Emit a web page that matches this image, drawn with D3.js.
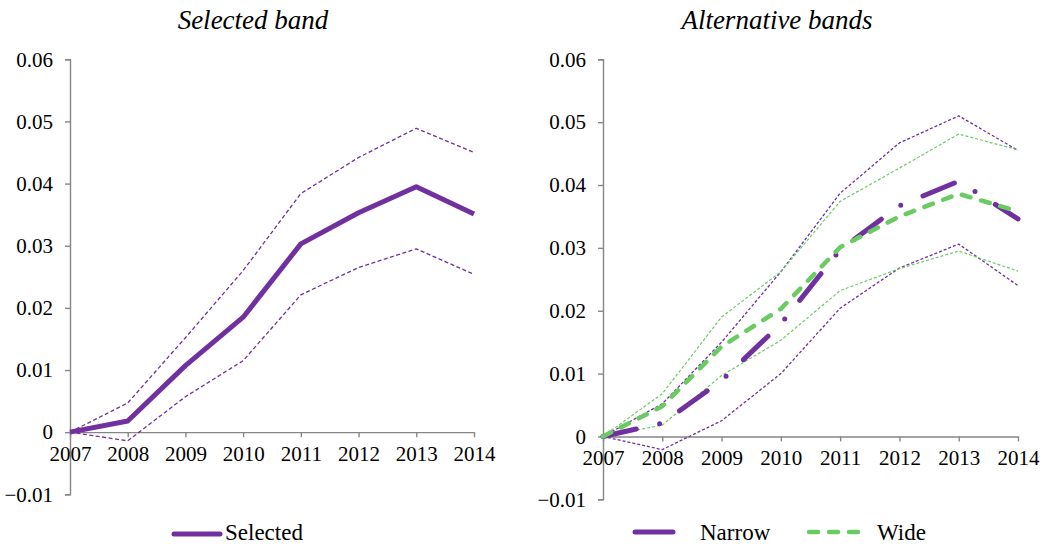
<!DOCTYPE html>
<html>
<head>
<meta charset="utf-8">
<script src="https://cdn.jsdelivr.net/npm/d3@7"></script>
<style>
  html, body { margin: 0; padding: 0; background: #fff; }
  svg { display: block; }
  text { font-family: "Liberation Serif", "Times New Roman", serif; fill: #000; }
</style>
</head>
<body>
<svg id="chart" width="1046" height="548"></svg>
<script>
// Years on the horizontal axis
const years = ["2007", "2008", "2009", "2010", "2011", "2012", "2013", "2014"];
const yTicks = [-0.01, 0, 0.01, 0.02, 0.03, 0.04, 0.05, 0.06];

// Left panel: selected band
const selected      = [0, 0.0018, 0.0107, 0.0185, 0.0303, 0.0353, 0.0395, 0.0351];
const selectedUpper = [0, 0.0047, 0.0152, 0.0260, 0.0384, 0.0442, 0.0489, 0.0450];
const selectedLower = [0, -0.0014, 0.0057, 0.0115, 0.0221, 0.0265, 0.0295, 0.0254];

// Right panel: alternative bands
const narrow      = [0, 0.0021, 0.0089, 0.0179, 0.0297, 0.0367, 0.0406, 0.0346];
const narrowUpper = [0, 0.0052, 0.0150, 0.0262, 0.0387, 0.0467, 0.0510, 0.0455];
const narrowLower = [0, -0.0021, 0.0025, 0.0100, 0.0204, 0.0268, 0.0306, 0.0240];
const wide        = [0, 0.0048, 0.0143, 0.0203, 0.0301, 0.0350, 0.0386, 0.0358];
const wideUpper   = [0, 0.0068, 0.0190, 0.0262, 0.0374, 0.0427, 0.0481, 0.0456];
const wideLower   = [0, 0.0018, 0.0097, 0.0153, 0.0232, 0.0267, 0.0295, 0.0263];

const PURPLE = "#7030a0";
const GREEN = "#6bcb63";
const AXIS = "#868686";

const svg = d3.select("#chart");
svg.append("rect").attr("width", 1046).attr("height", 548).attr("fill", "#fff");

function panel(cfg) {
  const g = svg.append("g");
  const x = d3.scalePoint().domain(years).range([cfg.x0, cfg.x1]);
  const y = d3.scaleLinear().domain([-0.01, 0.06]).range([cfg.yBottom, cfg.yTop]);

  // y axis
  const yAxis = d3.axisLeft(y).tickValues(yTicks)
    .tickFormat(d => d === 0 ? "0" : d3.format(".2f")(d))
    .tickSize(5).tickPadding(12);
  const ya = g.append("g").attr("transform", `translate(${cfg.x0},0)`).call(yAxis);
  ya.select(".domain").attr("stroke", AXIS).attr("stroke-width", 1.4);
  ya.selectAll(".tick line").attr("stroke", AXIS).attr("stroke-width", 1.4);
  ya.selectAll(".tick text").attr("font-size", 21).attr("font-family", "Liberation Serif").attr("fill", "#000");

  // x axis along zero
  const xAxis = d3.axisBottom(x).tickSize(5).tickSizeOuter(0).tickPadding(9);
  const xa = g.append("g").attr("transform", `translate(0,${y(0)})`).call(xAxis);
  xa.select(".domain").attr("stroke", AXIS).attr("stroke-width", 1.4);
  xa.selectAll(".tick line").attr("stroke", AXIS).attr("stroke-width", 1.4);
  xa.selectAll(".tick text").attr("font-size", 21).attr("font-family", "Liberation Serif").attr("fill", "#000");

  // title
  g.append("text").attr("x", cfg.titleX).attr("y", 29)
    .attr("text-anchor", "middle").attr("font-style", "italic")
    .attr("font-size", 27).text(cfg.title);

  const line = d3.line().x((d, i) => x(years[i])).y(d => y(d));
  cfg.series.forEach(s => {
    g.append("path").datum(s.values)
      .attr("d", line)
      .attr("fill", "none")
      .attr("stroke", s.color)
      .attr("stroke-width", s.width)
      .attr("stroke-dasharray", s.dash || null)
      .attr("stroke-linecap", s.cap || "butt")
      .attr("stroke-linejoin", "round");
  });

  // legend
  cfg.legend.forEach(l => {
    g.append("line").attr("x1", l.x1).attr("x2", l.x2).attr("y1", l.y).attr("y2", l.y)
      .attr("stroke", l.color).attr("stroke-width", l.width)
      .attr("stroke-linecap", "round")
      .attr("stroke-dasharray", l.dash || null);
    g.append("text").attr("x", l.tx).attr("y", 540).attr("font-size", 23).text(l.label);
  });
}

panel({
  x0: 70, x1: 474, yTop: 59.3, yBottom: 494.3,
  title: "Selected band", titleX: 253,
  series: [
    { values: selectedUpper, color: PURPLE, width: 1.3, dash: "4,2.5" },
    { values: selectedLower, color: PURPLE, width: 1.3, dash: "4,2.5" },
    { values: selected, color: PURPLE, width: 5 }
  ],
  legend: [
    { x1: 174, x2: 220, y: 534, color: PURPLE, width: 5, label: "Selected", tx: 225 }
  ]
});

panel({
  x0: 603, x1: 1018, yTop: 59.3, yBottom: 499.3,
  title: "Alternative bands", titleX: 777,
  series: [
    { values: narrowUpper, color: PURPLE, width: 1.3, dash: "3,2" },
    { values: narrowLower, color: PURPLE, width: 1.3, dash: "3,2" },
    { values: wideUpper, color: GREEN, width: 1.2, dash: "3,2" },
    { values: wideLower, color: GREEN, width: 1.2, dash: "3,2" },
    { values: narrow, color: PURPLE, width: 5, dash: "34,24,0,24", cap: "round" },
    { values: wide, color: GREEN, width: 4.5, dash: "9,11", cap: "round" }
  ],
  legend: [
    { x1: 635, x2: 673, y: 532, color: PURPLE, width: 5, label: "Narrow", tx: 700 },
    { x1: 809, x2: 862, y: 532, color: GREEN, width: 4.5, dash: "9,11", label: "Wide", tx: 877 }
  ]
});
</script>
</body>
</html>
